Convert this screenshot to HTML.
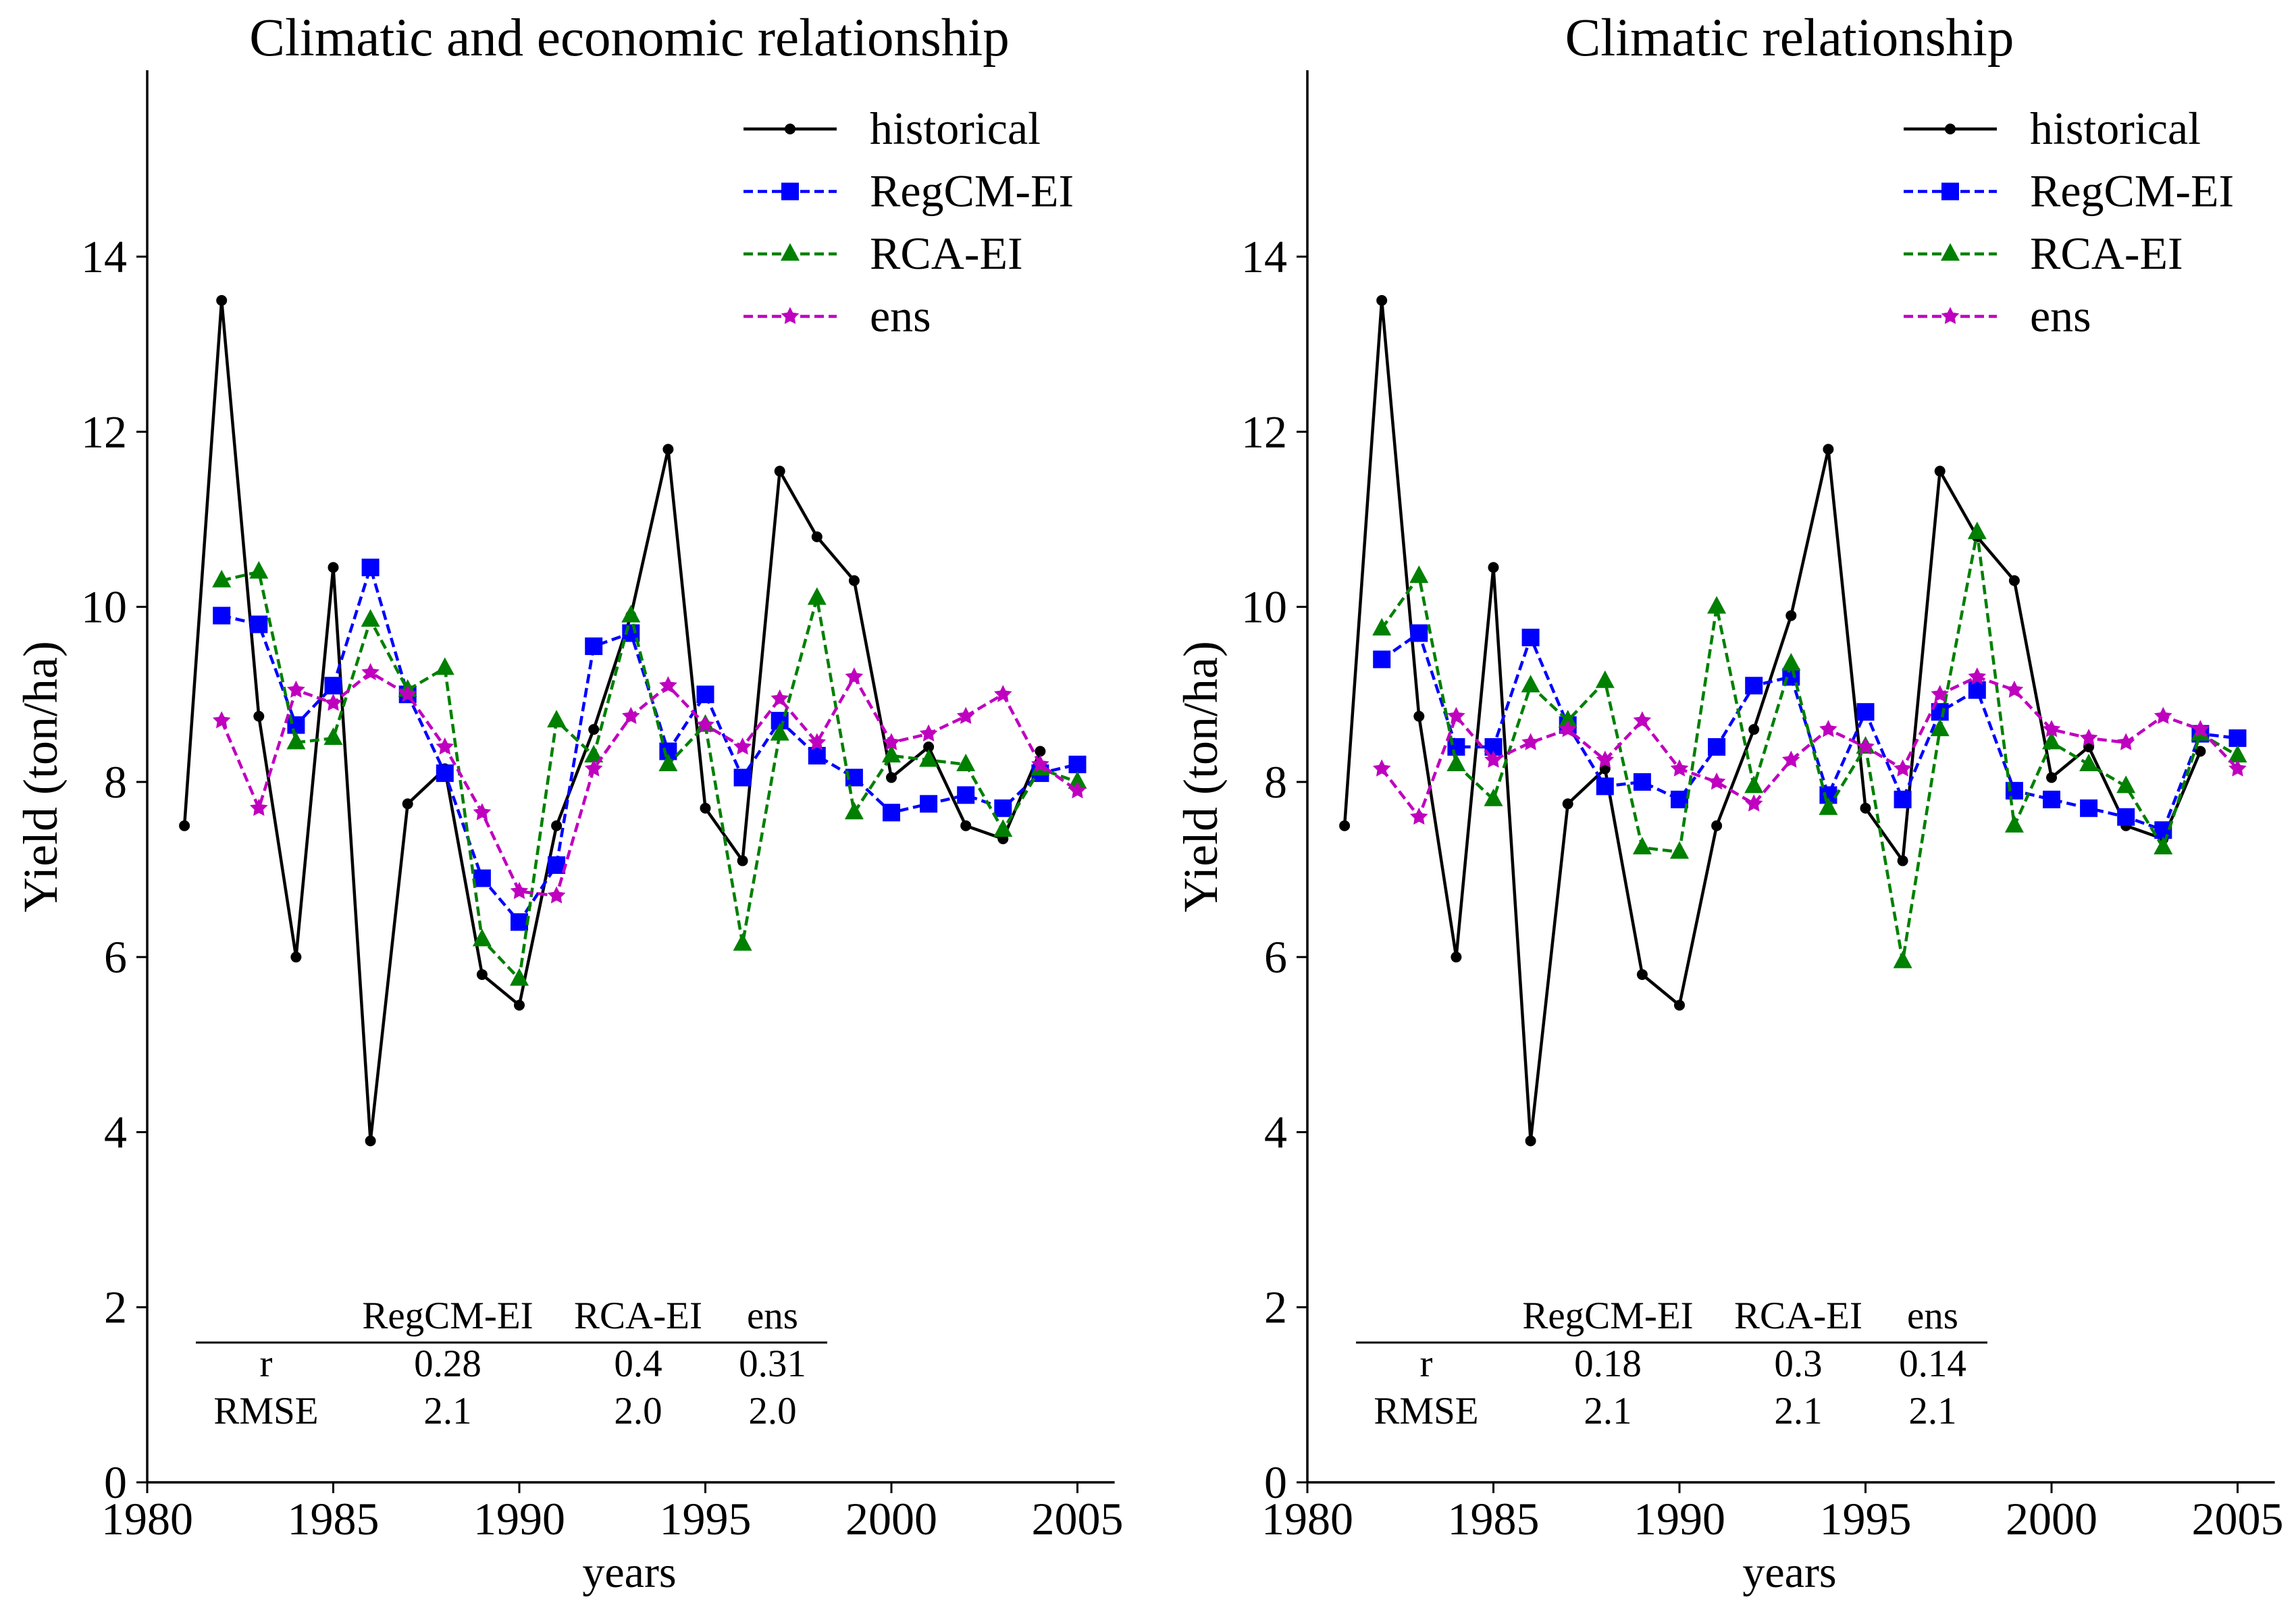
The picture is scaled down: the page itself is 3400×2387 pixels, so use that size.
<!DOCTYPE html>
<html><head><meta charset="utf-8"><style>
html,body{margin:0;padding:0;background:#fff;}
svg text{font-family:"Liberation Serif","DejaVu Serif",serif;fill:#000;}
</style></head><body>
<svg id="chart" width="3400" height="2382" viewBox="0 0 3400 2382" xmlns="http://www.w3.org/2000/svg"></svg>
<script>
const years = [1981,1982,1983,1984,1985,1986,1987,1988,1989,1990,1991,1992,1993,1994,1995,1996,1997,1998,1999,2000,2001,2002,2003,2004,2005];
const historical = [7.5,13.5,8.75,6.0,10.45,3.9,7.75,8.15,5.8,5.45,7.5,8.6,9.9,11.8,7.7,7.1,11.55,10.8,10.3,8.05,8.4,7.5,7.35,8.35,null];
const regcmLeft = [null,9.9,9.8,8.65,9.1,10.45,9.0,8.1,6.9,6.4,7.05,9.55,9.7,8.35,9.0,8.05,8.7,8.3,8.05,7.65,7.75,7.85,7.7,8.1,8.2];
const rcaLeft = [null,10.3,10.4,8.45,8.5,9.85,9.05,9.3,6.2,5.75,8.7,8.3,9.9,8.2,8.65,6.15,8.55,10.1,7.65,8.3,8.25,8.2,7.45,8.15,8.0];
const ensLeft = [null,8.7,7.7,9.05,8.9,9.25,9.0,8.4,7.65,6.75,6.7,8.15,8.75,9.1,8.65,8.4,8.95,8.45,9.2,8.45,8.55,8.75,9.0,8.2,7.9];
const regcmRight = [null,9.4,9.7,8.4,8.4,9.65,8.65,7.95,8.0,7.8,8.4,9.1,9.2,7.85,8.8,7.8,8.8,9.05,7.9,7.8,7.7,7.6,7.45,8.55,8.5];
const rcaRight = [null,9.75,10.35,8.2,7.8,9.1,8.7,9.15,7.25,7.2,10.0,7.95,9.35,7.7,8.4,5.95,8.6,10.85,7.5,8.45,8.2,7.95,7.25,8.55,8.3];
const ensRight = [null,8.15,7.6,8.75,8.25,8.45,8.6,8.25,8.7,8.15,8.0,7.75,8.25,8.6,8.4,8.15,9.0,9.2,9.05,8.6,8.5,8.45,8.75,8.6,8.15];
const xTicks = [1980,1985,1990,1995,2000,2005];
const yTicks = [0,2,4,6,8,10,12,14];
const tableHeaders = ["RegCM-EI","RCA-EI","ens"];
const rLeft = ["0.28","0.4","0.31"], rmseLeft = ["2.1","2.0","2.0"];
const rRight = ["0.18","0.3","0.14"], rmseRight = ["2.1","2.1","2.1"];

const NS="http://www.w3.org/2000/svg";
const svg=document.getElementById('chart');
function mk(tag,attrs,parent){const e=document.createElementNS(NS,tag);for(const k in attrs)e.setAttribute(k,attrs[k]);(parent||svg).appendChild(e);return e;}
function txt(s,x,y,size,anchor,parent){const t=mk('text',{x:x,y:y,'font-size':size,'text-anchor':anchor||'middle'},parent);t.textContent=s;return t;}

function panel(ox,title,reg,rca,ens,rv,rmse,key){
  const g=mk('g',{});
  
  
  const X=y=>ox+(y-1980)*55.1;
  const Y=v=>2195-v*129.64;
  const right=ox+(2006.0-1980)*55.1;
  const ax=mk('line',{x1:ox,y1:104,x2:ox,y2:2195,stroke:'#000','stroke-width':3.5},g);
  
  const bx=mk('line',{x1:ox,y1:2195,x2:right,y2:2195,stroke:'#000','stroke-width':3.5},g);
  
  xTicks.forEach(t=>{mk('line',{x1:X(t),y1:2195,x2:X(t),y2:2211,stroke:'#000','stroke-width':3},g);
    const l=txt(String(t),X(t),2272,68,'middle',g);});
  yTicks.forEach(t=>{mk('line',{x1:ox-16,y1:Y(t),x2:ox,y2:Y(t),stroke:'#000','stroke-width':3},g);
    const l=txt(String(t),ox-30,Y(t)+23,68,'end',g);});
  const tt=txt(title,ox+714,82,79,'middle',g);
  const xl=txt('years',ox+714,2350,66,'middle',g);
  const yl=txt('Yield (ton/ha)',0,0,72,'middle',g);yl.setAttribute('transform',`translate(${ox-134},1150) rotate(-90)`);
  

  function marker(kind,x,y,color,pg){
    if(kind==='o')return mk('circle',{cx:x,cy:y,r:8},pg);
    if(kind==='s')return mk('rect',{x:x-13,y:y-13,width:26,height:26,fill:color},pg);
    if(kind==='^')return mk('polygon',{points:`${x},${y-16} ${x+14},${y+10} ${x-14},${y+10}`,fill:color},pg);
    let p=[];for(let i=0;i<10;i++){const a=-Math.PI/2+i*Math.PI/5,r=i%2?7:14;p.push((x+r*Math.cos(a)).toFixed(1)+','+(y+r*Math.sin(a)).toFixed(1));}
    return mk('polygon',{points:p.join(' '),fill:color},pg);
  }
  function series(vals,color,kind,dash,name){
    const sg=mk('g',{fill:color},g);
    
    
    const pts=[];vals.forEach((v,i)=>{if(v!=null)pts.push([X(years[i]),Y(v)]);});
    const a={points:pts.map(p=>p.join(',')).join(' '),fill:'none',stroke:color,'stroke-width':4.5,'stroke-linejoin':'round'};
    if(dash)a['stroke-dasharray']='14,7';
    const pl=mk('polyline',a,sg);
    
    pts.forEach(p=>{const m=marker(kind,p[0],p[1],color,sg);
      });
  }
  series(historical,'#000','o',false,'historical');
  series(reg,'#0000ff','s',true,'regcm-ei');
  series(rca,'#008000','^',true,'rca-ei');
  series(ens,'#bf00bf','*',true,'ens');

  const lg=mk('g',{},g);
  const items=[['historical','#000','o',false],['RegCM-EI','#0000ff','s',true],['RCA-EI','#008000','^',true],['ens','#bf00bf','*',true]];
  const lx=ox+883;
  items.forEach((it,i)=>{const yy=191+i*92.5;
    const e=mk('g',{fill:it[1]},lg);
    const a={x1:lx,y1:yy,x2:lx+138,y2:yy,stroke:it[1],'stroke-width':4.5};if(it[3])a['stroke-dasharray']='14,7';
    mk('line',a,e);marker(it[2],lx+69,yy,it[1],e);
    txt(it[0],lx+187,yy+22,68,'start',e);});

  const tb=mk('g',{},g);
  const cols=[ox+445,ox+727,ox+926];
  tableHeaders.forEach((h,i)=>txt(h,cols[i],1967,57,'middle',tb));
  mk('line',{x1:ox+72,y1:1988,x2:ox+1007,y2:1988,stroke:'#000','stroke-width':3},tb);
  txt('r',ox+176,2038,57,'middle',tb);txt('RMSE',ox+176,2108,57,'middle',tb);
  rv.forEach((v,i)=>txt(v,cols[i],2038,57,'middle',tb));
  rmse.forEach((v,i)=>txt(v,cols[i],2108,57,'middle',tb));
}
panel(218,'Climatic and economic relationship',regcmLeft,rcaLeft,ensLeft,rLeft,rmseLeft,'left');
panel(1936,'Climatic relationship',regcmRight,rcaRight,ensRight,rRight,rmseRight,'right');
</script>
</body></html>
